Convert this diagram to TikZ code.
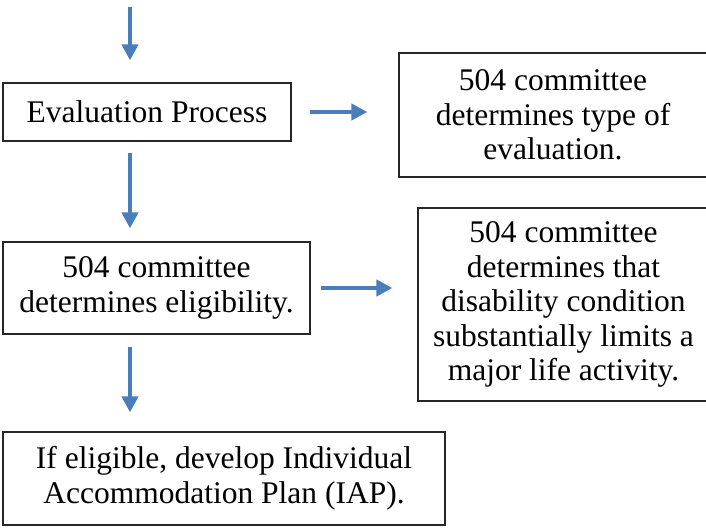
\documentclass[tikz,border=0pt]{standalone}
\usepackage{fontspec}
\setmainfont{Liberation Serif}
\usepackage{tikz}
\usetikzlibrary{arrows.meta}
\definecolor{flowblue}{RGB}{74,126,187}

\tikzset{
  box/.style={draw=black!85, line width=1.2pt, inner sep=0pt, align=center,
    font=\fontsize{31.5}{34.5}\selectfont},
  flow/.style={draw=flowblue, line width=4.5pt,
    -{Triangle[width=16pt,length=16pt]}}
}

\begin{document}
\begin{tikzpicture}[x=1pt, y=1pt]
\useasboundingbox (0,0) rectangle (706,527);
\coordinate (start) at (130,520);
\node [box, minimum width=288pt, minimum height=58pt] (eval) at (147,415) {Evaluation Process};
\node [box, minimum width=308pt, minimum height=124pt] (type) at (553,412) {504 committee\\determines type of\\evaluation.};
\node [box, minimum width=307pt, minimum height=92pt] (elig) at (156.5,239) {504 committee\\determines eligibility.};
\node [box, minimum width=291pt, minimum height=193pt] (limit) at (563.5,222.5) {504 committee\\determines that\\disability condition\\substantially limits a\\major life activity.};
\node [box, minimum width=442pt, minimum height=93pt] (iap) at (224,48.5) {If eligible, develop Individual\\Accommodation Plan (IAP).};

% arrows
\draw [flow, shorten >=22pt] (start) -- (start |- eval.north);
\draw [flow, shorten <=11pt, shorten >=13pt] (start |- eval.south) -- (start |- elig.north);
\draw [flow, shorten <=12pt, shorten >=19pt] (start |- elig.south) -- (start |- iap.north);
\draw [flow, shorten <=18pt, shorten >=31pt] (eval.east) -- (eval.east -| type.west);
\draw [flow, shorten <=10pt, shorten >=25pt] (elig.east) -- (elig.east -| limit.west);
\end{tikzpicture}
\end{document}
